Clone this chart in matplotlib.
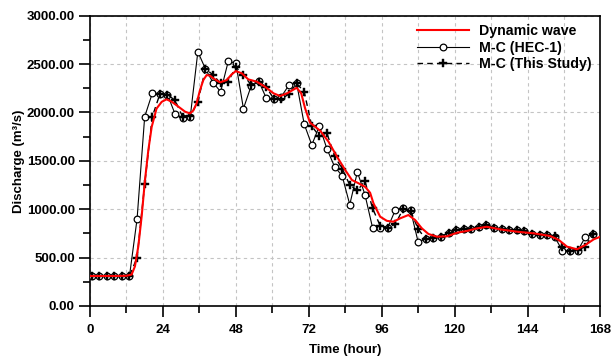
import numpy as np
import matplotlib
matplotlib.use("Agg")
import matplotlib.pyplot as plt
from matplotlib.ticker import MultipleLocator, FormatStrFormatter

plt.rcParams["font.family"] = ["Liberation Sans", "DejaVu Sans"]
plt.rcParams["font.weight"] = "bold"

# dynamic wave solution (smooth reference curve)
dw_t = [0, 4, 8, 12, 13.7, 14.8, 15.9, 17.0, 18.1, 19.2, 20.3, 21.9, 23.6, 25.2, 26.9,
        29.1, 31.3, 32.9, 34.0, 35.1, 36.2, 37.3, 38.4, 39.5, 40.6, 42.8, 45.0, 46.5,
        48.0, 50.0, 52.1, 54.9, 57.6, 60.4, 62.6, 65.0, 68.0, 69.5, 70.8, 72.4, 75.8,
        78.5, 81.3, 84.0, 86.2, 88.4, 90.6, 92.2, 93.3, 95.5, 97.7, 99.9, 102.1, 104.8,
        107.0, 109.2, 111.4, 114.2, 117.5, 120.8, 124.0, 127.0, 130.6, 135.0, 140.5,
        146.0, 151.5, 154.3, 157.0, 160.3, 163.0, 165.8, 168.0]
dw_q = [310, 310, 310, 312, 325, 410, 615, 925, 1300, 1610, 1850, 2040, 2110, 2136, 2111,
        2060, 2008, 1990, 2020, 2095, 2230, 2335, 2387, 2380, 2353, 2311, 2335, 2390,
        2428, 2404, 2342, 2318, 2266, 2198, 2170, 2200, 2255, 2200, 2043, 1895, 1810,
        1698, 1543, 1405, 1302, 1268, 1230, 1170, 1061, 923, 880, 871, 906, 940,
        889, 803, 744, 716, 720, 757, 775, 800, 819, 792, 768,
        751, 723, 682, 613, 586, 630, 689, 716]

# Muskingum-Cunge results, one value per routing step
step_t = np.arange(67) * 2.5 + 0.5
hec1_q = [310, 310, 310, 310, 310, 310, 900, 1956, 2198, 2195,
          2185, 1984, 1945, 1955, 2628, 2450, 2308, 2215, 2528, 2510,
          2040, 2270, 2325, 2150, 2136, 2165, 2284, 2305, 1880, 1664,
          1860, 1622, 1440, 1345, 1048, 1385, 1150, 809, 809, 809,
          992, 1010, 990, 662, 692, 706, 716, 757, 790, 792,
          796, 819, 837, 809, 792, 785, 785, 772, 746, 735,
          738, 710, 571, 571, 571, 710, 744]
study_q = [310, 310, 310, 310, 310, 310, 500, 1260, 1956, 2190,
           2185, 2125, 1955, 1965, 2110, 2450, 2390, 2300, 2320, 2470,
           2390, 2285, 2320, 2265, 2140, 2140, 2191, 2300, 2215, 1858,
           1755, 1785, 1546, 1420, 1250, 1195, 1290, 1010, 830, 810,
           845, 1000, 985, 795, 692, 704, 716, 757, 790, 792,
           796, 819, 837, 809, 792, 785, 785, 772, 746, 735,
           738, 725, 613, 571, 578, 613, 744]

fig = plt.figure(figsize=(6.13, 3.58), dpi=100)
ax = fig.add_axes([0.1468, 0.1453, 0.8327, 0.8108])

ax.plot(dw_t, dw_q, color="#ff0000", lw=1.5, label="Dynamic wave", zorder=4)
ax.plot(step_t, hec1_q, color="black", lw=0.8, marker="o", ms=4.8, mfc="white",
        mec="black", mew=0.9, label="M-C (HEC-1)", zorder=3)
ax.plot(step_t, study_q, color="black", lw=1.0, ls=(0, (4, 3)), marker="P", ms=5.5,
        mfc="black", mec="black", mew=0.3, label="M-C (This Study)", zorder=3)

ax.set_xlim(0, 168)
ax.set_ylim(0, 3000)
ax.xaxis.set_major_locator(MultipleLocator(24))
ax.xaxis.set_minor_locator(MultipleLocator(12))
ax.yaxis.set_major_locator(MultipleLocator(500))
ax.yaxis.set_minor_locator(MultipleLocator(250))
ax.yaxis.set_major_formatter(FormatStrFormatter("%.2f"))

gkw = dict(color="#c4c4c4", lw=0.8, ls=(0, (3, 3)))
ax.grid(True, axis="y", which="major", **gkw)
ax.grid(True, axis="x", which="both", **gkw)
ax.set_axisbelow(True)

ax.tick_params(which="major", direction="out", length=8, width=1.2, labelsize=9.5, pad=3)
ax.tick_params(axis="x", which="major", pad=5)
ax.tick_params(which="minor", direction="out", length=5, width=1.2)
for lab in ax.get_xticklabels() + ax.get_yticklabels():
    lab.set_fontweight("bold")
for s in ax.spines.values():
    s.set_linewidth(1.2)

ax.set_xlabel("Time (hour)", fontsize=9.5, fontweight="bold", labelpad=6)
ax.set_ylabel("Discharge (m³/s)", fontsize=9.5, fontweight="bold", labelpad=1)

ax.legend(loc="upper right", frameon=False, fontsize=10.2, handlelength=3.7,
          numpoints=1, borderaxespad=0.2, labelspacing=0.18, handletextpad=0.7)

fig.savefig("out.png", dpi=100, facecolor="white")
